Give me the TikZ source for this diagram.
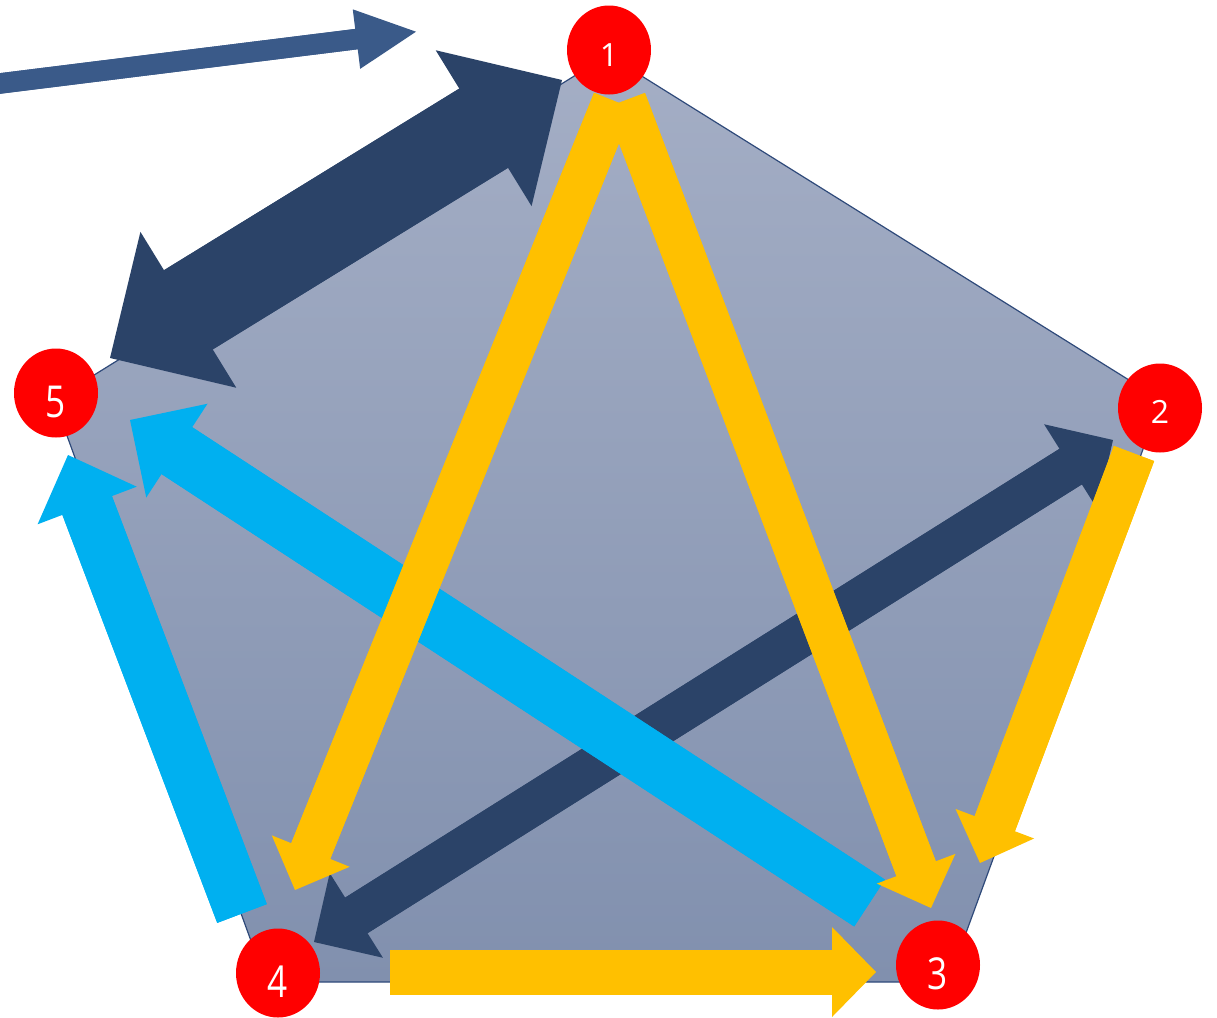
\documentclass[tikz,border=0pt]{standalone}
\usepackage{fontspec}
\usepackage{graphicx}
\setmainfont{Open Sans}
\usetikzlibrary{arrows.meta,shapes.geometric}
\definecolor{darknavy}{RGB}{43,67,104}
\definecolor{midblue}{RGB}{58,90,137}
\definecolor{cyanarrow}{RGB}{0,176,240}
\definecolor{goldarrow}{RGB}{255,192,0}
\definecolor{pentop}{RGB}{164,174,197}
\definecolor{penbot}{RGB}{129,144,174}
\definecolor{penedge}{RGB}{47,74,122}
\newcommand{\lowdigit}[2]{\raisebox{-#1}[\height][0pt]{#2}}
\newcommand{\narrowdigit}[1]{\scalebox{0.8}[1]{#1}}
\begin{document}
\begin{tikzpicture}[x=1pt,y=-1pt,
  blk/.style n args={3}{line width=#1, -{Triangle[length=#3, width=#2, line width=0pt]},
     postaction={draw, arrows=-, shorten >=#3-5pt}},
  dblk/.style n args={3}{line width=#1, {Triangle[length=#3, width=#2, line width=0pt]}-{Triangle[length=#3, width=#2, line width=0pt]},
     postaction={draw, arrows=-, shorten >=#3-5pt, shorten <=#3-5pt}},
  vertexdot/.style={ellipse, fill=red, minimum width=84pt, minimum height=89pt, inner sep=0pt, text=white, font=\fontsize{32}{32}\selectfont},
  bigdigit/.style={font=\fontsize{44}{44}\selectfont},
  penta/.style={draw=penedge, line width=1.2pt, top color=pentop, bottom color=penbot}
]
\useasboundingbox (0,0) rectangle (1217,1017);
\clip (0,0) rectangle (1217,1017);

% pentagon
\coordinate (v1) at (608,55);
\coordinate (v2) at (1161,400);
\coordinate (v3) at (948,982);
\coordinate (v4) at (266,982);
\coordinate (v5) at (54,400);
\path[penta] (v1) -- (v2) -- (v3) -- (v4) -- (v5) -- cycle;

% arrow end points
\coordinate (tbs) at (-10,84.7);
\coordinate (tbt) at (416,31.7);
\coordinate (d15a) at (562,80);
\coordinate (d15b) at (110,358);
\coordinate (d42a) at (314,942);
\coordinate (d42b) at (1113,440);
\coordinate (c35s) at (869.5,903);
\coordinate (c35t) at (130,420);
\coordinate (c45s) at (242,913.5);
\coordinate (c45t) at (68,455);
\coordinate (y14s) at (613.5,100.7);
\coordinate (y14t) at (295,890);
\coordinate (y13s) at (625.3,100.4);
\coordinate (y13t) at (931,908);
\coordinate (y23s) at (1134,453.5);
\coordinate (y23t) at (980,863);
\coordinate (y43s) at (390,972);
\coordinate (y43t) at (876,972);

% arrows
\draw[midblue, blk={20.5pt}{60pt}{60pt}] (tbs) -- (tbt);
\draw[darknavy, dblk={93pt}{183pt}{92pt}] (d15a) -- (d15b);
\draw[darknavy, dblk={42pt}{100pt}{50pt}] (d42a) -- (d42b);
\draw[cyanarrow, blk={56pt}{112pt}{56pt}] (c35s) -- (c35t);
\draw[cyanarrow, blk={53pt}{106pt}{54pt}] (c45s) -- (c45t);
\draw[goldarrow, blk={42pt}{84pt}{42pt}] (y14s) -- (y14t);
\draw[goldarrow, blk={42pt}{84pt}{42pt}] (y13s) -- (y13t);
\draw[goldarrow, blk={43pt}{84pt}{42pt}] (y23s) -- (y23t);
\draw[goldarrow, blk={45pt}{90pt}{44pt}] (y43s) -- (y43t);

% vertex labels
\node[vertexdot] (n1) at (609,50) {\lowdigit{5pt}{1}};
\node[vertexdot] (n2) at (1160,408) {\lowdigit{4pt}{2}};
\node[vertexdot, bigdigit] (n3) at (938,965) {\lowdigit{9pt}{\narrowdigit{3}}};
\node[vertexdot, bigdigit] (n4) at (278,973) {\lowdigit{9pt}{\narrowdigit{4}}};
\node[vertexdot, bigdigit] (n5) at (56,393) {\lowdigit{9pt}{\narrowdigit{5}}};
\end{tikzpicture}
\end{document}
